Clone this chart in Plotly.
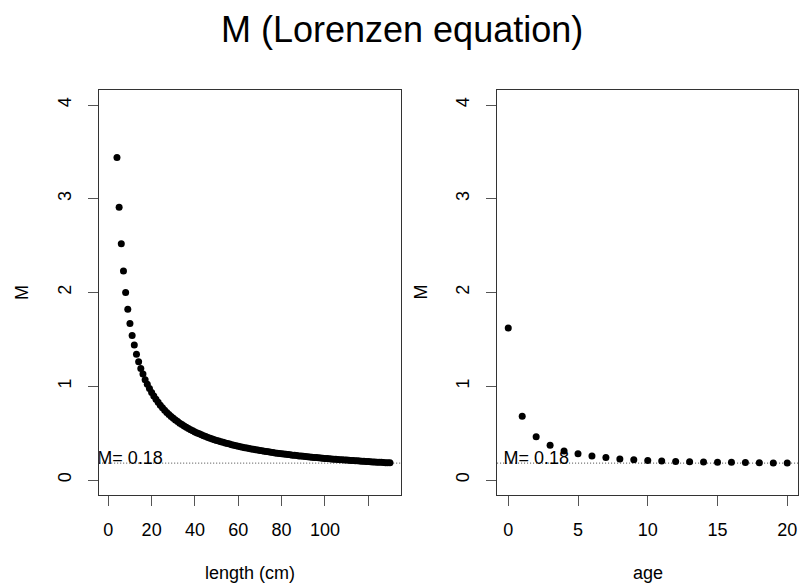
import plotly.graph_objects as go

# ---- data ----
length_cm = list(range(4, 131))
M_length = [
    3.44, 2.91, 2.52, 2.23, 2.00, 1.82, 1.67, 1.54, 1.44, 1.34, 1.26, 1.19,
    1.13, 1.07, 1.02, 0.975, 0.933, 0.895, 0.860, 0.828, 0.798, 0.770, 0.745,
    0.721, 0.699, 0.678, 0.658, 0.640, 0.623, 0.606, 0.591, 0.576, 0.562,
    0.549, 0.537, 0.525, 0.513, 0.502, 0.492, 0.482, 0.472, 0.463, 0.454,
    0.446, 0.438, 0.430, 0.4225, 0.415, 0.408, 0.402, 0.395, 0.389, 0.383,
    0.377, 0.371, 0.366, 0.360, 0.355, 0.350, 0.345, 0.340, 0.336, 0.331,
    0.327, 0.323, 0.319, 0.315, 0.311, 0.307, 0.303, 0.300, 0.296, 0.293,
    0.289, 0.286, 0.283, 0.280, 0.277, 0.274, 0.271, 0.268, 0.265, 0.263,
    0.260, 0.257, 0.255, 0.252, 0.250, 0.248, 0.245, 0.243, 0.241, 0.239,
    0.236, 0.234, 0.232, 0.230, 0.228, 0.226, 0.224, 0.222, 0.220, 0.219,
    0.217, 0.215, 0.213, 0.212, 0.210, 0.208, 0.207, 0.205, 0.204, 0.202,
    0.200, 0.199, 0.197, 0.196, 0.195, 0.193, 0.192, 0.190, 0.189, 0.188,
    0.186, 0.185, 0.184, 0.183,
]
age = list(range(0, 21))
M_age = [1.62, 0.68, 0.46, 0.37, 0.31, 0.28, 0.255, 0.24, 0.225, 0.215,
         0.207, 0.202, 0.198, 0.195, 0.192, 0.19, 0.188, 0.186, 0.184,
         0.182, 0.18]
M_ref = 0.18
label_text = "M= 0.18"
label_x_length = [10]
label_x_age = [2]

x1_ticks = [0, 20, 40, 60, 80, 100, 120]
x1_ticktext = ["0", "20", "40", "60", "80", "100", ""]
x2_ticks = [0, 5, 10, 15, 20]
y_ticks = [0, 1, 2, 3, 4]

title_text = "M (Lorenzen equation)"
xtitle1 = "length (cm)"
xtitle2 = "age"
ytitle = "M"

# ---- figure ----
W, H = 799, 588
FONT = "Liberation Sans, Arial, Helvetica, sans-serif"
LINE = "#333333"
TICK = "#555555"
label_y = M_ref + 0.035  # text sits just above the reference line, as in R

fig = go.Figure()
marker = dict(color="black", size=7, symbol="circle", line=dict(width=0))
fig.add_trace(go.Scatter(x=length_cm, y=M_length, mode="markers", marker=marker,
                         xaxis="x", yaxis="y", showlegend=False, cliponaxis=True))
fig.add_trace(go.Scatter(x=age, y=M_age, mode="markers", marker=marker,
                         xaxis="x2", yaxis="y2", showlegend=False, cliponaxis=True))
fig.add_trace(go.Scatter(x=label_x_length, y=[label_y], mode="text", text=[label_text],
                         textposition="middle center",
                         textfont=dict(family=FONT, size=18, color="black"),
                         xaxis="x", yaxis="y", showlegend=False, cliponaxis=True))
fig.add_trace(go.Scatter(x=label_x_age, y=[label_y], mode="text", text=[label_text],
                         textposition="middle center",
                         textfont=dict(family=FONT, size=18, color="black"),
                         xaxis="x2", yaxis="y2", showlegend=False, cliponaxis=True))

for xr, yr in (("x", "y"), ("x2", "y2")):
    fig.add_shape(type="line", xref=f"{xr} domain", yref=yr, x0=0, x1=1,
                  y0=M_ref, y1=M_ref, line=dict(color="#444444", width=1, dash="1px,2px"),
                  layer="below")

xd1 = [99.2 / W, 401.0 / W]
xd2 = [497.1 / W, 798.4 / W]
yd = [1 - 495 / H, 1 - 90 / H]

common_x = dict(showline=True, mirror=True, linecolor=LINE, linewidth=1,
                ticks="outside", ticklen=10, tickcolor=TICK, tickwidth=1,
                showgrid=False, zeroline=False, automargin=False,
                tickfont=dict(family=FONT, size=18, color="black"),
                ticklabelstandoff=8)
common_y = dict(common_x)
common_y.update(tickangle=-90, ticklabelstandoff=10)

fig.update_layout(
    width=W, height=H,
    margin=dict(l=0, r=0, t=0, b=0),
    paper_bgcolor="white", plot_bgcolor="white",
    template="none",
    xaxis=dict(domain=xd1, range=[-4.2, 135.1], tickmode="array",
               tickvals=x1_ticks, ticktext=x1_ticktext, anchor="y", **common_x),
    yaxis=dict(domain=yd, range=[-0.16, 4.16], tickmode="array",
               tickvals=y_ticks, anchor="x", **common_y),
    xaxis2=dict(domain=xd2, range=[-0.8, 20.8], tickmode="array",
                tickvals=x2_ticks, anchor="y2", **common_x),
    yaxis2=dict(domain=yd, range=[-0.16, 4.16], tickmode="array",
                tickvals=y_ticks, anchor="x2", **common_y),
    annotations=[
        dict(text=title_text, x=402 / W, y=1 - 29 / H, xref="paper", yref="paper",
             xanchor="center", yanchor="middle", showarrow=False,
             font=dict(family=FONT, size=36, color="black")),
        dict(text=xtitle1, x=250 / W, y=1 - 573 / H, xref="paper", yref="paper",
             xanchor="center", yanchor="middle", showarrow=False,
             font=dict(family=FONT, size=18, color="black")),
        dict(text=xtitle2, x=647.7 / W, y=1 - 573 / H, xref="paper", yref="paper",
             xanchor="center", yanchor="middle", showarrow=False,
             font=dict(family=FONT, size=18, color="black")),
        dict(text=ytitle, x=21.5 / W, y=1 - 292.5 / H, xref="paper", yref="paper",
             xanchor="center", yanchor="middle", showarrow=False, textangle=-90,
             font=dict(family=FONT, size=18, color="black")),
        dict(text=ytitle, x=420 / W, y=1 - 292.5 / H, xref="paper", yref="paper",
             xanchor="center", yanchor="middle", showarrow=False, textangle=-90,
             font=dict(family=FONT, size=18, color="black")),
    ],
)

fig.write_html(
    "out.html",
    config={"displayModeBar": False, "staticPlot": False},
    post_script="document.body.style.margin='0';document.body.style.padding='0';"
                "document.documentElement.style.overflow='hidden';",
)
